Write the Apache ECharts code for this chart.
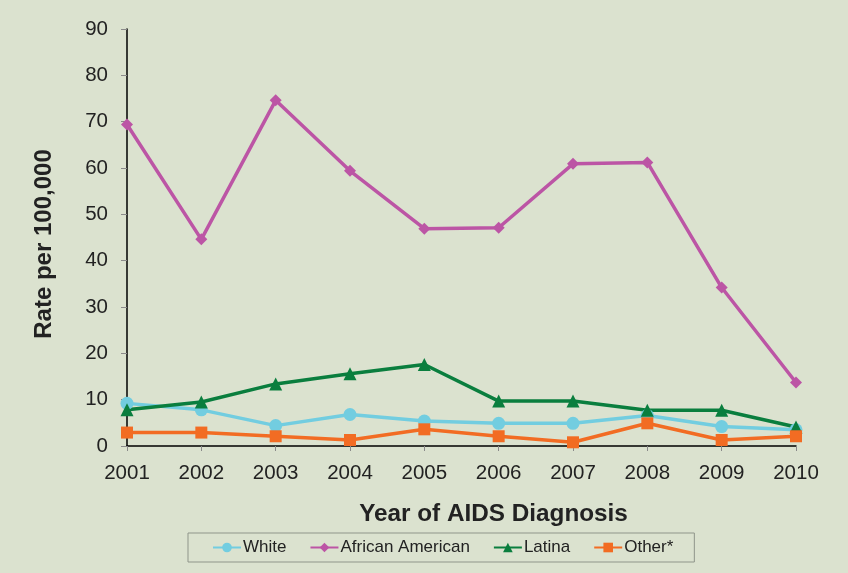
<!DOCTYPE html>
<html>
<head>
<meta charset="utf-8">
<script src="https://cdn.jsdelivr.net/npm/echarts@6/dist/echarts.min.js"></script>
<style>
  html, body { margin: 0; padding: 0; background: #dbe2cf; }
  #chart { width: 848px; height: 573px; }
</style>
</head>
<body>
<div id="chart"></div>
<script>
var years = ['2001', '2002', '2003', '2004', '2005', '2006', '2007', '2008', '2009', '2010'];
var white = [9.2, 7.8, 4.4, 6.8, 5.4, 4.9, 4.9, 6.6, 4.2, 3.5];
var africanAmerican = [69.4, 44.6, 74.6, 59.4, 46.9, 47.1, 60.9, 61.2, 34.2, 13.7];
var latina = [7.8, 9.5, 13.4, 15.6, 17.6, 9.7, 9.7, 7.7, 7.7, 4.1];
var other = [2.9, 2.9, 2.1, 1.3, 3.6, 2.1, 0.8, 4.9, 1.3, 2.1];

var font = 'Liberation Sans, Arial, sans-serif';

function lineSeries(name, data, color, symbol, size) {
    return {
        name: name,
        type: 'line',
        data: data,
        symbol: symbol,
        symbolSize: size,
        lineStyle: { color: color, width: 3.5 },
        itemStyle: { color: color },
        emphasis: { disabled: true }
    };
}

var chart = echarts.init(document.getElementById('chart'));
chart.setOption({
    backgroundColor: '#dbe2cf',
    animation: false,
    grid: { left: 127, right: 52, top: 29, bottom: 127 },
    legend: {
        bottom: 11,
        left: 188,
        borderColor: '#8f958a',
        borderWidth: 1,
        padding: [6, 21, 6, 24],
        itemGap: 23,
        itemWidth: 28,
        itemHeight: 12,
        textStyle: { fontFamily: font, fontSize: 17, color: '#222', padding: [0, 0, 0, -3] },
        data: ['White', 'African American', 'Latina', 'Other*']
    },
    xAxis: {
        type: 'category',
        data: years,
        boundaryGap: false,
        name: 'Year of AIDS Diagnosis',
        nameLocation: 'middle',
        nameGap: 56,
        nameTextStyle: { fontFamily: font, fontSize: 24.3, fontWeight: 'bold', color: '#222', padding: [0, 0, 0, 64] },
        axisLine: { lineStyle: { color: '#000', width: 1.5 } },
        axisTick: { show: true, length: 5, lineStyle: { color: '#8a8a8a' } },
        axisLabel: { fontFamily: font, fontSize: 20.5, color: '#222', margin: 17 }
    },
    yAxis: {
        type: 'value',
        min: 0,
        max: 90,
        interval: 10,
        name: 'Rate per 100,000',
        nameLocation: 'middle',
        nameGap: 71,
        nameTextStyle: { fontFamily: font, fontSize: 24, fontWeight: 'bold', color: '#222', padding: [0, 13, 0, 0] },
        splitLine: { show: false },
        axisLine: { show: true, lineStyle: { color: '#000', width: 1.5 } },
        axisTick: { show: true, length: 6, lineStyle: { color: '#8a8a8a' } },
        axisLabel: { fontFamily: font, fontSize: 20.5, color: '#222', margin: 19 }
    },
    series: [
        lineSeries('White', white, '#72cde0', 'circle', 13),
        lineSeries('African American', africanAmerican, '#bc55a5', 'diamond', 12),
        lineSeries('Latina', latina, '#0a7e3e', 'triangle', 13),
        lineSeries('Other*', other, '#f26c23', 'rect', 12)
    ]
});
</script>
</body>
</html>
